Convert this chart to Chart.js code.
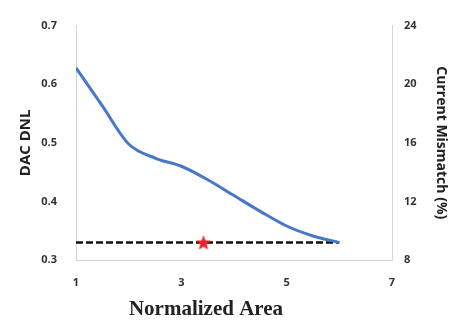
<!DOCTYPE html>
<html>
<head>
<meta charset="utf-8">
<script src="https://cdn.jsdelivr.net/npm/chart.js@4"></script>
<style>
  html, body { margin: 0; padding: 0; background: #fff; }
  canvas { display: block; }
</style>
</head>
<body>
<canvas id="dnlChart" width="451" height="324"></canvas>
<script>
// normalized area vs DAC DNL
const areaValues = [1, 1.5, 2, 2.5, 3, 3.5, 4, 4.5, 5, 5.5, 6];
const dnlValues = [0.628, 0.563, 0.498, 0.474, 0.46, 0.437, 0.41, 0.383, 0.358, 0.341, 0.33];

// target DNL level (dashed) and chosen design point (star)
const targetArea = [1, 6];
const targetDnl = [0.33, 0.33];
const chosenArea = [3.42];
const chosenDnl = [0.33];

const xTicks = [1, 3, 5, 7];
const leftTicks = [0.3, 0.4, 0.5, 0.6, 0.7];
const rightTicks = [8, 12, 16, 20, 24];

const tickFont = { family: 'Open Sans', size: 11, weight: 'bold' };
const tickColor = '#333';
const axisLine = '#d4d4d4';

// filled five point star for the marker
function makeStar(size, color) {
    const c = document.createElement('canvas');
    c.width = size;
    c.height = size;
    const g = c.getContext('2d');
    const cx = size / 2, cy = size / 2 + 0.8;
    const outer = size / 2, inner = outer * 0.42;
    g.beginPath();
    for (let i = 0; i < 10; i++) {
        const r = i % 2 ? inner : outer;
        const a = -Math.PI / 2 + i * Math.PI / 5;
        const px = cx + r * Math.cos(a), py = cy + r * Math.sin(a);
        if (i === 0) g.moveTo(px, py); else g.lineTo(px, py);
    }
    g.closePath();
    g.fillStyle = color;
    g.fill();
    return c;
}

// x axis title sits left of the plot centre, so draw it by hand
const xTitle = {
    id: 'xTitle',
    afterDraw(chart) {
        const g = chart.ctx;
        g.save();
        g.font = 'bold 21px "Liberation Serif"';
        g.fillStyle = '#222';
        g.textAlign = 'center';
        g.textBaseline = 'middle';
        g.fillText('Normalized Area', chart.chartArea.left + 130, 310);
        g.restore();
    }
};

const toPoints = (xs, ys) => xs.map((x, i) => ({ x: x, y: ys[i] }));

const ctx = document.getElementById('dnlChart').getContext('2d');
new Chart(ctx, {
    type: 'line',
    data: {
        datasets: [
            {
                data: toPoints(targetArea, targetDnl),
                borderColor: '#111',
                borderWidth: 2.5,
                borderDash: [7, 3],
                pointRadius: 0,
                order: 2
            },
            {
                data: toPoints(areaValues, dnlValues),
                borderColor: '#4677c8',
                borderWidth: 3,
                tension: 0.4,
                cubicInterpolationMode: 'monotone',
                pointRadius: 0,
                order: 1
            },
            {
                data: toPoints(chosenArea, chosenDnl),
                showLine: false,
                pointStyle: makeStar(16, '#e8212a'),
                order: 0
            }
        ]
    },
    options: {
        responsive: false,
        animation: false,
        layout: { padding: { top: 18, left: 0, right: 0, bottom: 0 } },
        plugins: {
            legend: { display: false },
            tooltip: { enabled: false }
        },
        scales: {
            x: {
                type: 'linear',
                min: 1,
                max: 7,
                afterBuildTicks: s => { s.ticks = xTicks.map(v => ({ value: v })); },
                afterFit: s => { s.height = 64; },
                grid: { display: false, drawTicks: false },
                border: { color: axisLine },
                ticks: { font: tickFont, color: tickColor, padding: 16, maxRotation: 0 }
            },
            y: {
                position: 'left',
                min: 0.3,
                max: 0.7,
                afterBuildTicks: s => { s.ticks = leftTicks.map(v => ({ value: v })); },
                afterFit: s => { s.width = 76; },
                grid: { display: false, drawTicks: false },
                border: { color: axisLine },
                ticks: { font: tickFont, color: tickColor, padding: 19, callback: v => v.toFixed(1) },
                title: {
                    display: true,
                    text: 'DAC DNL',
                    font: { family: 'Open Sans', size: 15, weight: 'bold' },
                    color: '#222',
                    padding: { top: 17, bottom: 0 }
                }
            },
            y2: {
                position: 'right',
                min: 8,
                max: 24,
                afterBuildTicks: s => { s.ticks = rightTicks.map(v => ({ value: v })); },
                afterFit: s => { s.width = 59; },
                grid: { display: false, drawTicks: false },
                border: { color: axisLine },
                ticks: { font: tickFont, color: tickColor, padding: 12 },
                title: {
                    display: true,
                    text: 'Current Mismatch (%)',
                    font: { family: 'Open Sans', size: 14, weight: 'bold' },
                    color: '#222',
                    padding: { top: 2, bottom: 0 }
                }
            }
        }
    },
    plugins: [xTitle]
});
</script>
</body>
</html>
